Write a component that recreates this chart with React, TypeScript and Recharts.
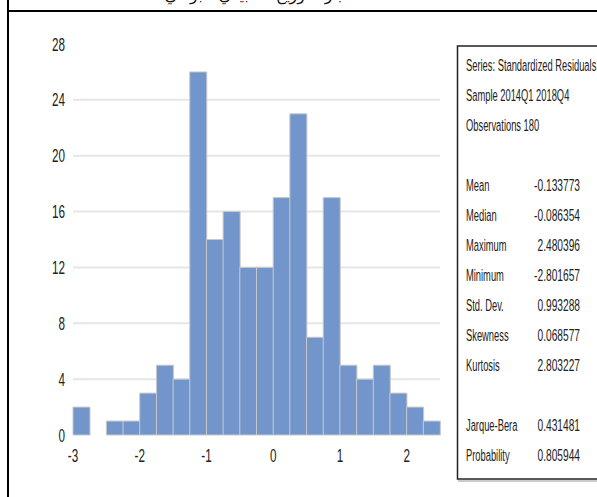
import React from 'react';
import { BarChart, Bar, XAxis, YAxis, CartesianGrid } from 'recharts';

const binStarts = [-3, -2.75, -2.5, -2.25, -2, -1.75, -1.5, -1.25, -1, -0.75, -0.5, -0.25, 0, 0.25, 0.5, 0.75, 1, 1.25, 1.5, 1.75, 2, 2.25];
const counts = [2, 0, 1, 1, 3, 5, 4, 26, 14, 16, 12, 12, 17, 23, 7, 17, 5, 4, 5, 3, 2, 1];
const xTicks = [-3, -2, -1, 0, 1, 2];
const yTicks = [0, 4, 8, 12, 16, 20, 24, 28];
const gridValues = [4, 8, 12, 16, 20, 24];
const headerLines = ['Series: Standardized Residuals', 'Sample 2014Q1 2018Q4', 'Observations 180'];
const statLabels = ['Mean', 'Median', 'Maximum', 'Minimum', 'Std. Dev.', 'Skewness', 'Kurtosis'];
const statValues = ['-0.133773', '-0.086354', '2.480396', '-2.801657', '0.993288', '0.068577', '2.803227'];
const testLabels = ['Jarque-Bera', 'Probability'];
const testValues = ['0.431481', '0.805944'];
const title = 'اختبار التوزيع الطبيعي للبواقي';

const data = binStarts.map((b, i) => ({ bin: String(b), count: counts[i] }));

const FONT = '"Liberation Sans", Arial, sans-serif';
const TXT = '#222';

const CHART_W = 597;
const CHART_H = 497;
const M = { top: 44, right: 157, bottom: 32, left: 33 };
const Y_AXIS_W = 40;
const BAND = (CHART_W - M.right - M.left - Y_AXIS_W) / binStarts.length;

const YTick = (props: any) => {
  const { x, y, payload } = props;
  return (
    <text transform={`translate(${x},${y}) scale(0.65,1)`} textAnchor="end" dominantBaseline="central" fontSize={18} fill={TXT} fontFamily={FONT}>
      {payload.value}
    </text>
  );
};

const XTick = (props: any) => {
  const { x, y, payload } = props;
  const v = Number(payload.value);
  if (!xTicks.includes(v)) return <g />;
  return (
    <text transform={`translate(${x - BAND / 2},${y}) scale(0.65,1)`} textAnchor="middle" dy="0.71em" fontSize={18} fill={TXT} fontFamily={FONT}>
      {v}
    </text>
  );
};

const rowY = (i: number) => 71 + 30 * i;

const StatText = ({ x, y, anchor, sx, children }: any) => (
  <text transform={`translate(${x},${y}) scale(${sx},1)`} textAnchor={anchor} fontSize={17} fill={TXT} fontFamily={FONT}>
    {children}
  </text>
);

export default function App() {
  return (
    <div style={{ position: 'absolute', left: 0, top: 0, width: CHART_W, height: CHART_H, overflow: 'hidden', background: '#fff' }}>
      <BarChart
        width={CHART_W}
        height={CHART_H}
        data={data}
        margin={M}
        barCategoryGap={0}
        barGap={0}
      >
        <CartesianGrid vertical={false} horizontalValues={gridValues} stroke="#e6e6e6" strokeWidth={2} />
        <XAxis
          dataKey="bin"
          type="category"
          interval={0}
          axisLine={false}
          tickLine={false}
          tickMargin={8}
          height={30}
          tick={<XTick />}
        />
        <YAxis
          type="number"
          domain={[0, 28]}
          ticks={yTicks}
          axisLine={false}
          tickLine={false}
          width={Y_AXIS_W}
          tick={<YTick />}
        />
        <Bar dataKey="count" fill="#7295cc" stroke="#c8c8c8" strokeWidth={1} isAnimationActive={false} />
      </BarChart>
      <svg width={CHART_W} height={CHART_H} style={{ position: 'absolute', left: 0, top: 0 }}>
        <text x={263} y={0} textAnchor="middle" fontSize={16} fill="#111" fontFamily="'DejaVu Sans', sans-serif">{title}</text>
        <rect x={7} y={0} width={2} height={497} fill="#000" />
        <rect x={7} y={10} width={590} height={2} fill="#000" />
        <rect x={457.5} y={46} width={200} height={433} fill="#fff" stroke="#222" strokeWidth={1.5} />
        <line x1={458} y1={481} x2={597} y2={481} stroke="#bbb" strokeWidth={1.5} />
        {headerLines.map((t, i) => (
          <StatText key={t} x={466} y={rowY(i)} anchor="start" sx={0.55}>{t}</StatText>
        ))}
        {statLabels.map((t, i) => (
          <StatText key={t} x={466} y={rowY(4 + i)} anchor="start" sx={0.55}>{t}</StatText>
        ))}
        {statValues.map((t, i) => (
          <StatText key={t} x={580} y={rowY(4 + i)} anchor="end" sx={0.6}>{t}</StatText>
        ))}
        {testLabels.map((t, i) => (
          <StatText key={t} x={466} y={rowY(12 + i)} anchor="start" sx={0.55}>{t}</StatText>
        ))}
        {testValues.map((t, i) => (
          <StatText key={t} x={580} y={rowY(12 + i)} anchor="end" sx={0.6}>{t}</StatText>
        ))}
      </svg>
    </div>
  );
}
